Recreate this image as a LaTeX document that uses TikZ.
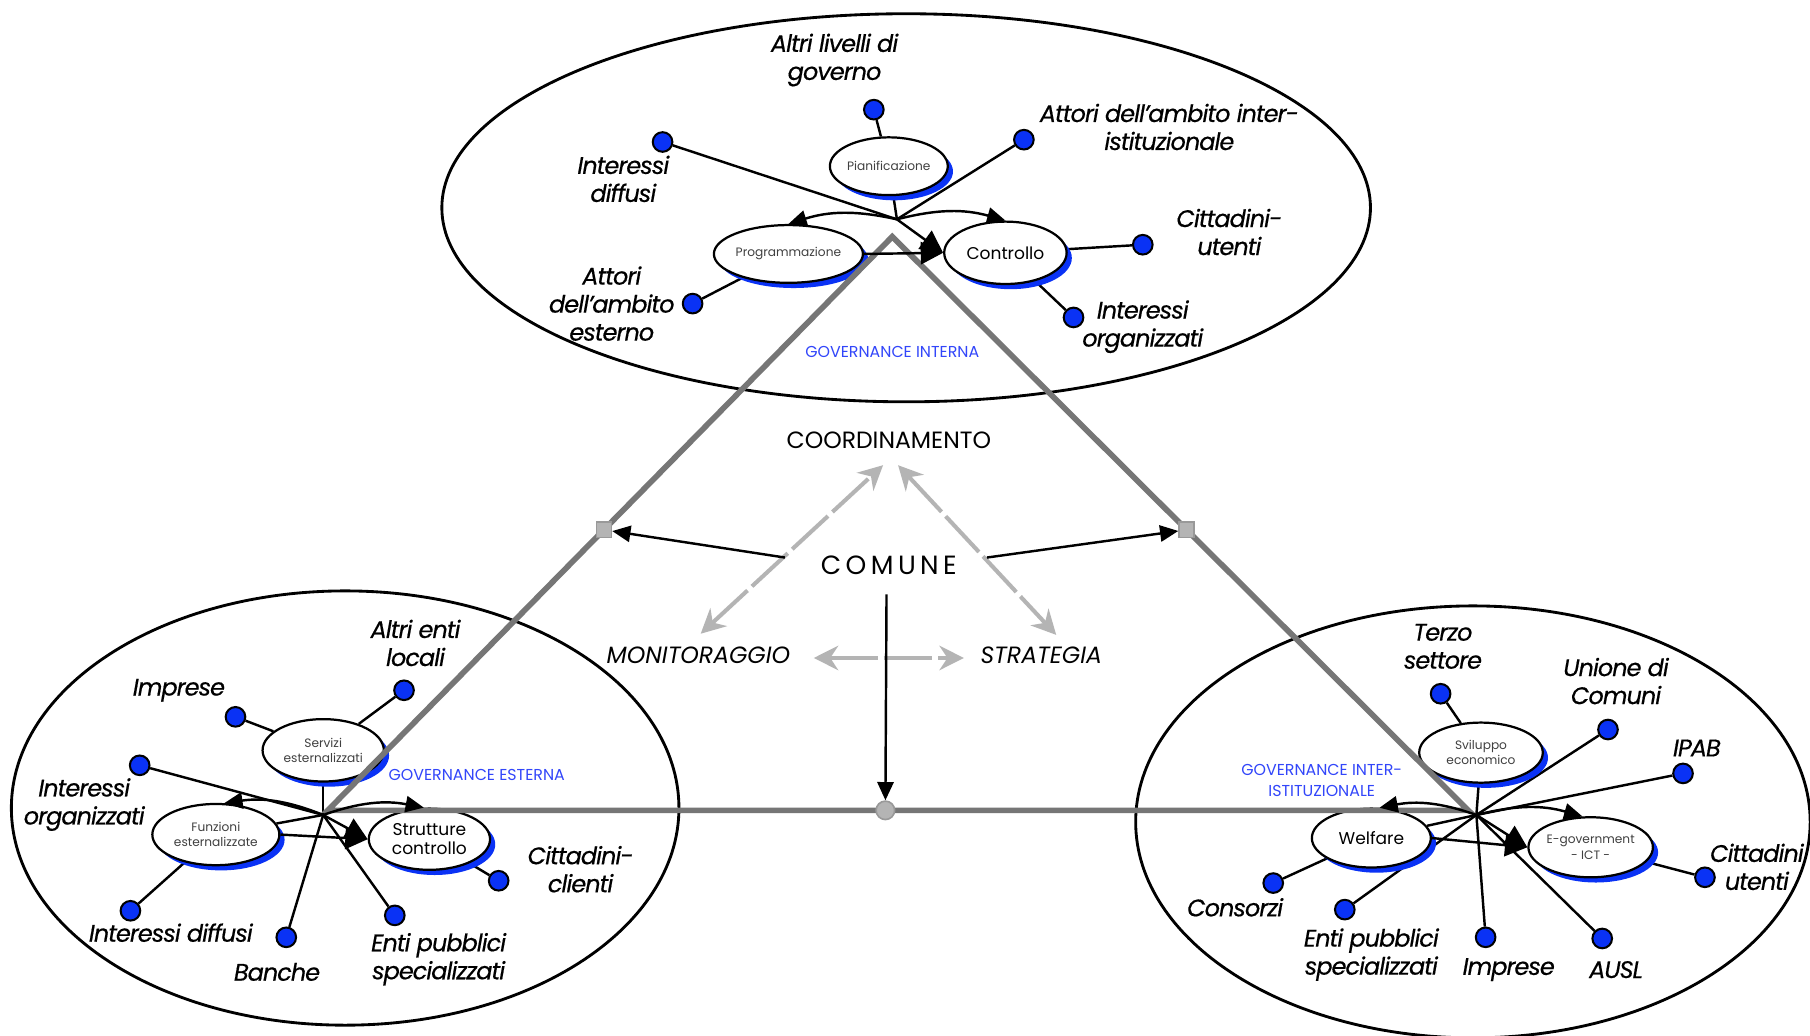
\documentclass[tikz,border=0pt]{standalone}
\usepackage{fontspec}
\newfontfamily\gfont{Poppins}
\newfontfamily\lfont[LetterSpace=-4,FakeBold=0.5]{Poppins}
\usetikzlibrary{shapes.geometric,arrows.meta,shadows}
\definecolor{dotblue}{RGB}{10,50,245}
\definecolor{govblue}{RGB}{50,70,250}
\definecolor{trigray}{RGB}{118,118,118}
\definecolor{lgray}{RGB}{180,180,180}
\pgfdeclarelayer{bg}
\pgfdeclarelayer{fg}
\pgfsetlayers{bg,main,fg}
\begin{document}
\begin{tikzpicture}[x=0.01cm,y=-0.01cm,
  lab/.style={font=\lfont\itshape\fontsize{5.9}{6.9}\selectfont, align=center, inner sep=0pt},
  ctr/.style={font=\gfont\fontsize{5.8}{6.9}\selectfont, align=center, inner sep=0pt},
  ctri/.style={font=\gfont\itshape\fontsize{5.8}{6.9}\selectfont, align=center, inner sep=0pt},
  gov/.style={font=\gfont\fontsize{3.9}{5}\selectfont, text=govblue, align=center, inner sep=0pt},
  func/.style={ellipse, draw, fill=white, line width=0.55pt, inner sep=0pt, align=center,
     general shadow={shadow xshift=0.045cm, shadow yshift=-0.045cm, fill=dotblue}},
  tinyt/.style={font=\gfont\fontsize{3}{3.7}\selectfont, text=black!75},
  smallt/.style={font=\gfont\fontsize{4.2}{4.8}\selectfont},
  dotn/.style={circle, draw=black, fill=dotblue, minimum size=0.17cm, inner sep=0pt, line width=0.5pt},
  con/.style={line width=0.6pt},
  arr/.style={line width=0.6pt, -{Triangle[length=4.5pt,width=4pt]}},
  bigarr/.style={line width=0.6pt, -{Triangle[length=5.5pt,width=5.5pt]}},
  garr/.style={draw=lgray, line width=1pt, {Stealth[length=6pt,width=6pt]}-{Stealth[length=6pt,width=6pt]}, dash pattern=on 12pt off 1.5pt},
  tri/.style={draw=trigray, line width=1.4pt, line join=miter},
  big/.style={line width=0.7pt},
]
\useasboundingbox (0,0) rectangle (1568,897);
\begin{pgfonlayer}{bg}
\fill[white] (0,0) rectangle (1568,897);
\draw[big] (785,180) ellipse [x radius=4.02cm, y radius=1.68cm];
\draw[big] (299,700) ellipse [x radius=2.89cm, y radius=1.88cm];
\draw[big] (1276,712) ellipse [x radius=2.92cm, y radius=1.87cm];
\end{pgfonlayer}

% ---------- top cluster ----------
\node[func, minimum width=0.96cm, minimum height=0.50cm, tinyt] (pian) at (770,144) {Pianificazione};
\node[func, minimum width=1.10cm, minimum height=0.50cm, tinyt] (prog) at (683,220) {Programmazione};
\node[func, minimum width=1.06cm, minimum height=0.54cm, smallt] (contr) at (871,219) {Controllo};
\coordinate (htop) at (777,190);
\node[dotn] (d1) at (757,95) {};
\node[dotn] (d2) at (574,123) {};
\node[dotn] (d3) at (887,121) {};
\node[dotn] (d4) at (990,212) {};
\node[dotn] (d5) at (930,275) {};
\node[dotn] (d6) at (600,263) {};
\node[lab] (l1) at (723,52) {Altri livelli di\\governo};
\node[lab] (l2) at (540,155) {Interessi\\diffusi};
\node[lab] (l3) at (1013,110) {Attori dell’ambito inter-\\istituzionale};
\node[lab] (l4) at (1065,201) {Cittadini-\\utenti};
\node[lab] (l5) at (990,283) {Interessi\\organizzati};
\node[lab] (l6) at (530,263) {Attori\\dell’ambito\\esterno};
\node[gov] (g1) at (773,305) {GOVERNANCE INTERNA};
\begin{pgfonlayer}{bg}
\draw[con] (d1) -- (pian);
\draw[con] (d2) -- (htop);
\draw[con] (d3) -- (htop);
\draw[con] (d4) -- (contr);
\draw[con] (d5) -- (contr);
\draw[con] (d6) -- (prog);
\draw[con] (pian) -- (htop);
\end{pgfonlayer}

% ---------- bottom-left cluster ----------
\node[func, minimum width=1.05cm, minimum height=0.54cm, tinyt] (serv) at (280,650) {Servizi\\esternalizzati};
\node[func, minimum width=1.10cm, minimum height=0.53cm, tinyt] (funz) at (187,723) {Funzioni\\esternalizzate};
\node[func, minimum width=1.05cm, minimum height=0.53cm, smallt] (strut) at (372,727) {Strutture\\controllo};
\coordinate (hbl) at (280,706);
\node[dotn] (e1) at (350,598) {};
\node[dotn] (e2) at (204,621) {};
\node[dotn] (e3) at (121,663) {};
\node[dotn] (e4) at (113,789) {};
\node[dotn] (e5) at (248,812) {};
\node[dotn] (e6) at (342,793) {};
\node[dotn] (e7) at (432,763) {};
\node[lab] (m1) at (360,557) {Altri enti\\locali};
\node[lab] (m2) at (155,598) {Imprese};
\node[lab] (m3) at (73,697) {Interessi\\organizzati};
\node[lab] (m4) at (148,808) {Interessi diffusi};
\node[lab] (m5) at (240,842) {Banche};
\node[lab] (m6) at (380,831) {Enti pubblici\\specializzati};
\node[lab] (m7) at (503,753) {Cittadini-\\clienti};
\node[gov] (g2) at (413,671) {GOVERNANCE ESTERNA};
\begin{pgfonlayer}{bg}
\draw[con] (e1) -- (serv);
\draw[con] (e2) -- (serv);
\draw[con] (e3) -- (hbl);
\draw[con] (e4) -- (funz);
\draw[con] (e5) -- (hbl);
\draw[con] (e6) -- (hbl);
\draw[con] (e7) -- (strut);
\draw[con] (serv) -- (hbl);
\draw[con] (funz) -- (hbl);
\end{pgfonlayer}

% ---------- bottom-right cluster ----------
\node[func, minimum width=1.07cm, minimum height=0.52cm, tinyt] (svil) at (1283,652) {Sviluppo\\economico};
\node[func, minimum width=1.03cm, minimum height=0.51cm, smallt] (welf) at (1188,726) {Welfare};
\node[func, minimum width=1.03cm, minimum height=0.52cm, tinyt] (egov) at (1378,734) {E-government\\- ICT -};
\coordinate (hbr) at (1279,706);
\node[dotn] (f1) at (1248,601) {};
\node[dotn] (f2) at (1393,632) {};
\node[dotn] (f3) at (1458,670) {};
\node[dotn] (f4) at (1477,760) {};
\node[dotn] (f5) at (1103,765) {};
\node[dotn] (f6) at (1165,788) {};
\node[dotn] (f7) at (1287,812) {};
\node[dotn] (f8) at (1388,813) {};
\node[lab] (n1) at (1250,560) {Terzo\\settore};
\node[lab] (n2) at (1400,590) {Unione di\\Comuni};
\node[lab] (n3) at (1470,648) {IPAB};
\node[lab] (n4) at (1522,751) {Cittadini\\utenti};
\node[lab] (n5) at (1070,786) {Consorzi};
\node[lab] (n6) at (1188,827) {Enti pubblici\\specializzati};
\node[lab] (n7) at (1307,840) {Imprese};
\node[lab] (n8) at (1400,840) {AUSL};
\node[gov] (g3) at (1145,676) {GOVERNANCE INTER-\\ISTITUZIONALE};
\begin{pgfonlayer}{bg}
\draw[con] (f1) -- (svil);
\draw[con] (f2) -- (hbr);
\draw[con] (f3) -- (hbr);
\draw[con] (f4) -- (egov);
\draw[con] (f5) -- (welf);
\draw[con] (f6) -- (hbr);
\draw[con] (f7) -- (hbr);
\draw[con] (f8) -- (hbr);
\draw[con] (svil) -- (hbr);
\draw[con] (welf) -- (hbr);
\end{pgfonlayer}

% ---------- centre ----------
\node[ctr] (coord) at (770,381) {COORDINAMENTO};
\node[font=\gfont\fontsize{6.5}{7}\selectfont, inner sep=0pt] (comune) at (770,490) {C\,O\,M\,U\,N\,E};
\node[ctri] (monit) at (605,568) {MONITORAGGIO};
\node[ctri] (strat) at (902,568) {STRATEGIA};
\coordinate (gL) at (607,549);
\coordinate (gT1) at (765,403);
\coordinate (gT2) at (778,403);
\coordinate (gR) at (915,550);
\coordinate (gM1) at (705,570);
\coordinate (gM2) at (835,570);
\draw[garr] (gL) -- (gT1);
\draw[garr] (gT2) -- (gR);
\draw[garr] (gM1) -- (gM2);

% ---------- triangle ----------
\coordinate (A) at (773,205);
\coordinate (B) at (284,702);
\coordinate (C) at (1272,702);
\begin{pgfonlayer}{fg}
\draw[tri] (A) -- (B) -- (C) -- cycle;
\path (A) -- (B) coordinate[pos=0.511] (sqL);
\path (A) -- (C) coordinate[pos=0.511] (sqR);
\coordinate (bm) at (767,702);
\node[rectangle, fill=lgray, draw=lgray!85!black, minimum size=0.13cm, inner sep=0pt] (sqLn) at (sqL) {};
\node[rectangle, fill=lgray, draw=lgray!85!black, minimum size=0.13cm, inner sep=0pt] (sqRn) at (sqR) {};
\node[circle, fill=lgray, draw=lgray!85!black, minimum size=0.16cm, inner sep=0pt] (bmn) at (bm) {};
\coordinate (cL) at (680,483);
\coordinate (cR) at (855,483);
\coordinate (cD) at (768,515);
\draw[arr] (cL) -- (sqLn);
\draw[arr] (cR) -- (sqRn);
\draw[arr] (cD) -- (bmn);
% cluster arrows
\draw[arr] (htop) to[bend right=15] (prog.north);
\draw[arr] (htop) to[bend left=15] (contr.north);
\draw[bigarr] (prog.east) -- (contr.west);
\draw[bigarr] (htop) -- (contr.west);
\draw[arr] (hbl) to[bend right=15] (funz.75);
\draw[arr] (hbl) to[bend left=15] (strut.100);
\draw[bigarr] (funz.east) -- (strut.west);
\draw[bigarr] (hbl) -- (strut.west);
\draw[arr] (hbr) to[bend right=15] (welf.75);
\draw[arr] (hbr) to[bend left=15] (egov.105);
\draw[bigarr] (welf.east) -- (egov.west);
\draw[bigarr] (hbr) -- (egov.west);
\end{pgfonlayer}
\end{tikzpicture}
\end{document}
